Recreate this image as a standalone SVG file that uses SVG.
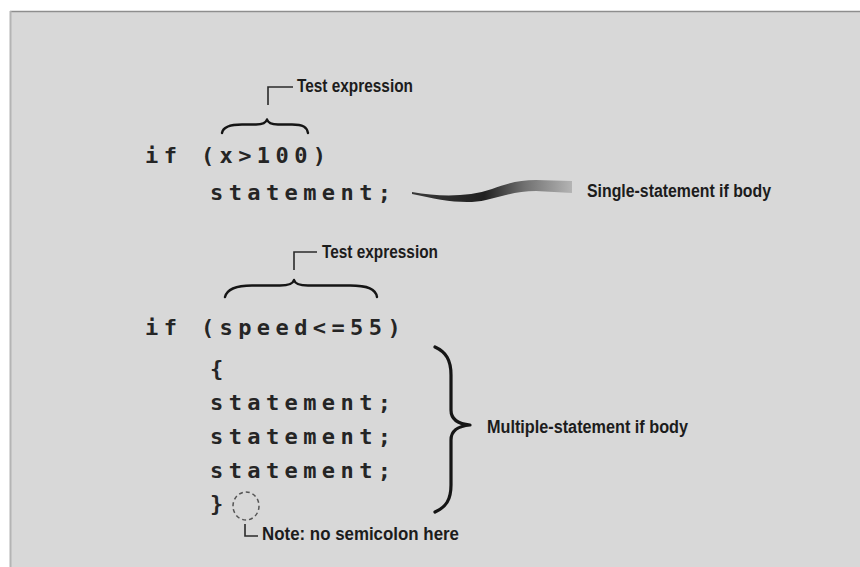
<svg xmlns="http://www.w3.org/2000/svg" width="860" height="567" viewBox="0 0 860 567">
<style>
.code{font-family:"DejaVu Sans Mono","Liberation Mono",monospace;font-size:22px;font-weight:bold;fill:#252525;letter-spacing:5.4px}
.lbl{font-family:"Liberation Sans","Arial",sans-serif;font-size:18px;font-weight:bold;fill:#1c1c1c}
.lead{fill:none;stroke:#2a2a2a;stroke-width:1.6}
.brace{fill:none;stroke:#151515;stroke-width:2.4;stroke-linecap:round;stroke-linejoin:round}
</style>
<defs>
<linearGradient id="sw" x1="412" y1="0" x2="572" y2="0" gradientUnits="userSpaceOnUse">
<stop offset="0" stop-color="#3a3a3a"/>
<stop offset="0.45" stop-color="#202020"/>
<stop offset="0.7" stop-color="#707070"/>
<stop offset="1" stop-color="#b4b4b4"/>
</linearGradient>
</defs>
<rect x="0" y="0" width="860" height="567" fill="#ffffff"/>
<rect x="10" y="11" width="860" height="570" fill="#d8d8d8"/>
<line x1="10" y1="11.5" x2="860" y2="11.5" stroke="#8e8e8e" stroke-width="1.5"/>
<line x1="10.5" y1="11" x2="10.5" y2="567" stroke="#b4b4b4" stroke-width="2"/>

<g id="code1">
<text class="code" x="145" y="163">if (x&gt;100)</text>
<text class="code" x="210" y="200">statement;</text>
</g>
<g id="code2">
<text class="code" x="145" y="335">if (speed&lt;=55)</text>
<text class="code" x="210" y="376">{</text>
<text class="code" x="210" y="410">statement;</text>
<text class="code" x="210" y="444">statement;</text>
<text class="code" x="210" y="478">statement;</text>
<text class="code" x="210" y="511">}</text>
</g>
<g id="label-test1"><text class="lbl" x="297" y="92" textLength="116" lengthAdjust="spacingAndGlyphs">Test expression</text></g>
<g id="label-single"><text class="lbl" x="587" y="197" textLength="184" lengthAdjust="spacingAndGlyphs">Single-statement if body</text></g>
<g id="label-test2"><text class="lbl" x="322" y="258" textLength="116" lengthAdjust="spacingAndGlyphs">Test expression</text></g>
<g id="label-multi"><text class="lbl" x="487" y="433" textLength="201" lengthAdjust="spacingAndGlyphs">Multiple-statement if body</text></g>
<g id="label-note"><text class="lbl" x="262" y="540" textLength="197" lengthAdjust="spacingAndGlyphs">Note: no semicolon here</text></g>
<g id="note-circle"><ellipse cx="246" cy="506" rx="13" ry="14" fill="none" stroke="#555" stroke-width="1.5" stroke-dasharray="4 3"/></g>

<g id="connectors">
<path class="lead" d="M293,87 H268 V105"/>
<path class="brace" d="M222,133 C223,127 230,124.5 242,124.5 L256,124.5 C263,124.5 266,123 267,119.5 C268,123 271,124.5 278,124.5 L292,124.5 C303,124.5 307,127 308,133"/>
<path d="M412,192 C440,197 468,197 492,189 C508,183 520,180 536,180 L572,181 L572,193 L536,191 C517,191 502,196 486,200 C465,205 440,200 412,194 Z" fill="url(#sw)"/>
<path class="lead" d="M317,252 H294 V270"/>
<path class="brace" d="M225,297 C227,289 236,285.5 252,285.5 L280,285.5 C289,285.5 293,284 294,280 C295,284 299,285.5 308,285.5 L350,285.5 C368,285.5 376,289 377,297"/>
<path class="brace" style="stroke-width:3.2" d="M435,347 C446,352 451,360 451,375 L451,410 C451,419 458,424 470,425 C458,426 451,431 451,440 L451,485 C451,500 446,507 435,512"/>
<path class="lead" d="M245,524 V536 H258"/>
</g>
</svg>
